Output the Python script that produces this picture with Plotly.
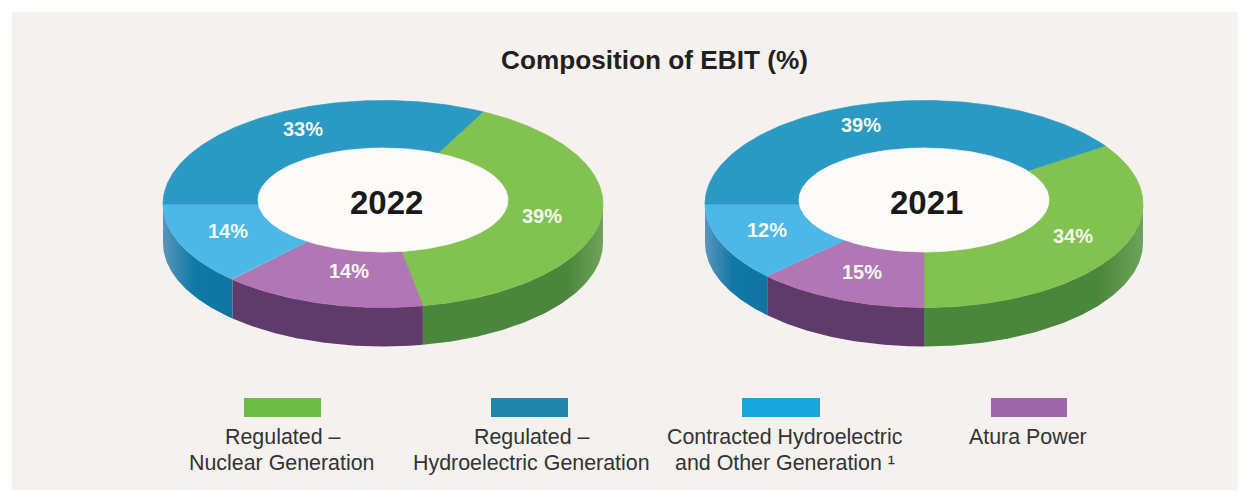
import numpy as np
import plotly.graph_objects as go

TITLE = "Composition of EBIT (%)"
CATEGORIES = ["Regulated – Nuclear Generation", "Atura Power",
              "Contracted Hydroelectric and Other Generation", "Regulated – Hydroelectric Generation"]
LEGEND_LINES = [["Regulated –", "Nuclear Generation"], ["Regulated –", "Hydroelectric Generation"],
                ["Contracted Hydroelectric", "and Other Generation ¹"], ["Atura Power"]]

YEARS = ["2022", "2021"]
# Printed values, in the order of CATEGORIES
LABELS_2022 = [39, 14, 14, 33]
LABELS_2021 = [34, 15, 12, 39]
# Share of the ring each slice actually occupies in the picture (the source artwork
# does not quite follow its printed numbers)
SHARES_2022 = [39.6, 14.9, 13.0, 32.5]
SHARES_2021 = [34.5, 12.7, 12.3, 40.5]

TOP_COLORS = ["#82c250", "#b077b4", "#4cb8e8", "#2a9ac4"]
SIDE_COLORS = [[[0, "#4a873c"], [0.8, "#4a873c"], [1, "#6fa35a"]],
               [[0, "#5f3b6b"], [1, "#5f3b6b"]],
               [[0, "#5a95ba"], [0.45, "#1079a6"], [1, "#0f74a0"]],
               [[0, "#1079a6"], [1, "#1079a6"]]]
SWATCH_COLORS = ["#6cbb45", "#1f85aa", "#17a5dc", "#9c66a8"]
PANEL = "#f4f1ef"
HOLE = "#fdfbf9"

# Layout of the two rings on the page (pixel-scaled axes)
RINGS = [
    dict(cx=383, cy=204, rx=220, ry=103.5, depth=39, hx=383, hy=200, hrx=125, hry=52, start=27.0,
         label_xy=[(542, 216), (349, 271), (228, 231), (303, 129)], year_xy=(386, 202)),
    dict(cx=924, cy=204, rx=219, ry=103.5, depth=39, hx=924, hy=200, hrx=125, hry=52, start=55.8,
         label_xy=[(1073, 236), (862, 272), (767, 230), (861, 125)], year_xy=(926, 202)),
]
SHARES = [SHARES_2022, SHARES_2021]
LABELS = [LABELS_2022, LABELS_2021]
SWATCH_X = [(244, 321), (491, 568), (742, 820), (991, 1067)]
LEGEND_TEXT_X = [282, 531, 785, 1028]
LEGEND_TEXT_Y = [437, 463]

fig = go.Figure()


def ell(r, deg):
    a = np.radians(deg)
    return r["cx"] + r["rx"] * np.sin(a), r["cy"] - r["ry"] * np.cos(a)


def add_poly(x, y, name, color=None, grad=None):
    if grad is None:
        kw = dict(fillcolor=color, line=dict(width=0.7, color=color))
    else:
        kw = dict(fillgradient=dict(type="horizontal", colorscale=grad), line=dict(width=0))
    fig.add_trace(go.Scatter(x=x, y=y, mode="lines", fill="toself",
                             name=name, hoverinfo="name", showlegend=False, **kw))


for r, shares, labels, year in zip(RINGS, SHARES, LABELS, YEARS):
    edges = r["start"] + np.concatenate([[0], np.cumsum(shares)]) * 3.6
    # side walls (only the front half of the ring faces the viewer)
    for i, cat in enumerate(CATEGORIES):
        a0, a1 = max(edges[i], 90), min(edges[i + 1], 270)
        if a1 <= a0:
            continue
        t = np.linspace(a0, a1, 80)
        x, y = ell(r, t)
        add_poly(np.r_[x, x[::-1], x[0]], np.r_[y, y[::-1] + r["depth"], y[0]],
                 f"{year} {cat}", grad=SIDE_COLORS[i])
    # top faces
    for i, cat in enumerate(CATEGORIES):
        t = np.linspace(edges[i], edges[i + 1], 160)
        x, y = ell(r, t)
        add_poly(np.r_[r["cx"], x, r["cx"]], np.r_[r["cy"], y, r["cy"]],
                 f"{year} {cat}", color=TOP_COLORS[i])
    # hole
    t = np.linspace(0, 360, 240)
    add_poly(r["hx"] + r["hrx"] * np.sin(np.radians(t)), r["hy"] - r["hry"] * np.cos(np.radians(t)),
             year, color=HOLE)

shapes = [dict(type="rect", xref="x", yref="y", x0=12, x1=1238, y0=12, y1=490,
               fillcolor=PANEL, line_width=0, layer="below")]
for (x0, x1), c in zip(SWATCH_X, SWATCH_COLORS):
    shapes.append(dict(type="rect", xref="x", yref="y", x0=x0, x1=x1, y0=398, y1=417,
                       fillcolor=c, line_width=0, layer="above"))

annotations = [dict(x=654, y=60, text=f"<b>{TITLE}</b>", showarrow=False,
                    font=dict(size=26.2, color="#231f20"))]
for r, labels, year in zip(RINGS, LABELS, YEARS):
    annotations.append(dict(x=r["year_xy"][0], y=r["year_xy"][1], text=f"<b>{year}</b>", showarrow=False,
                            font=dict(size=33, color="#1a1a1a")))
    for (lx, ly), v in zip(r["label_xy"], labels):
        annotations.append(dict(x=lx, y=ly, text=f"<b>{v}%</b>", showarrow=False,
                                font=dict(size=20, color="#f4f7ee")))
for lx, lines in zip(LEGEND_TEXT_X, LEGEND_LINES):
    for ly, t in zip(LEGEND_TEXT_Y, lines):
        annotations.append(dict(x=lx, y=ly, text=t, showarrow=False, align="center",
                                font=dict(size=21.4, color="#333333")))

fig.update_layout(
    width=1249, height=491, margin=dict(l=0, r=0, t=0, b=0),
    paper_bgcolor="#ffffff", plot_bgcolor="#ffffff",
    font=dict(family="Liberation Sans, Arial, sans-serif"),
    xaxis=dict(range=[0, 1249], visible=False, fixedrange=True),
    yaxis=dict(range=[491, 0], visible=False, fixedrange=True),
    shapes=shapes, annotations=annotations, showlegend=False,
)
fig.write_html("out.html", config=dict(displayModeBar=False),
               post_script="document.body.style.margin='0';document.body.style.overflow='hidden';")
